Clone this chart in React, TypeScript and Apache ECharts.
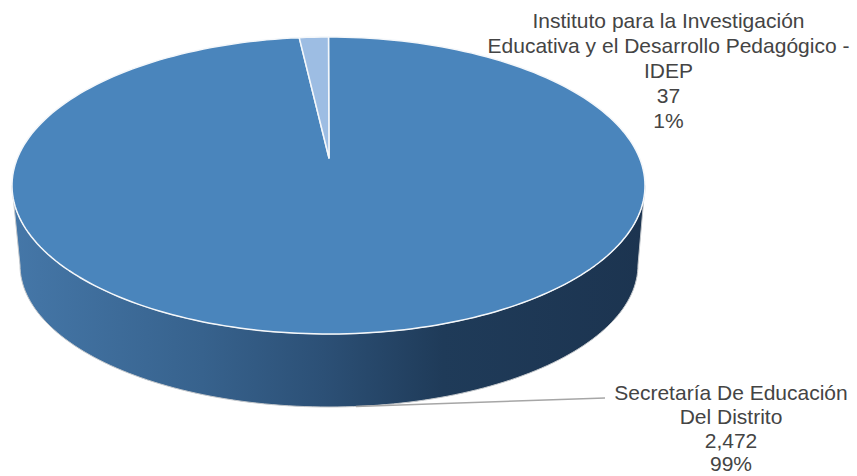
import React, { useEffect, useRef } from "react";
import * as echarts from "echarts";

const names = [
  "Secretaría De Educación\nDel Distrito",
  "Instituto para la Investigación\nEducativa y el Desarrollo Pedagógico -\nIDEP",
];
const values = [2472, 37];
const topColors = ["#4a85bc", "#9dbde3"];

const total = values.reduce((a, b) => a + b, 0);
const rad = (d: number) => (d * Math.PI) / 180;

const TOP = { cx: 328.5, cy: 185.5, rx: 316.5, ry: 148.5 };
const BOTTOM = { cx: 329, cy: 265, rx: 309, ry: 142 };
const APEX = [329, 158];
const LABELS = [
  { x: 731, y: 380.5, lineHeight: 23.8 },
  { x: 668.5, y: 8.5, lineHeight: 24.8 },
];

function rim(e: typeof TOP, deg: number) {
  return [e.cx + e.rx * Math.sin(rad(deg)), e.cy - e.ry * Math.cos(rad(deg))];
}
function arc(e: typeof TOP, a0: number, a1: number) {
  const pts: number[][] = [];
  const n = Math.max(2, Math.ceil(Math.abs(a1 - a0) / 1.5));
  for (let i = 0; i <= n; i++) pts.push(rim(e, a0 + ((a1 - a0) * i) / n));
  return pts;
}

function renderItem(params: any, api: any) {
  const i = params.dataIndex;
  const v = api.value(0);
  let before = 0;
  for (let k = 0; k < i; k++) before += values[k];
  const a0 = (before / total) * 360;
  const a1 = ((before + v) / total) * 360;
  const children: any[] = [];

  const f0 = Math.max(a0, 90);
  const f1 = Math.min(a1, 270);
  if (f1 > f0) {
    children.push({
      type: "polygon",
      shape: { points: [...arc(TOP, f0, f1), ...arc(BOTTOM, f1, f0)] },
      style: {
        fill: new echarts.graphic.LinearGradient(0, 0, 1, 0, [
          { offset: 0, color: "#4577a8" },
          { offset: 0.3, color: "#37628d" },
          { offset: 0.49, color: "#2c5076" },
          { offset: 0.68, color: "#1f3b59" },
          { offset: 1, color: "#1c3450" },
        ]),
        stroke: "#c4c8cc",
        lineWidth: 1,
      },
    });
  }
  children.push({
    type: "polygon",
    shape: { points: [APEX, ...arc(TOP, a0, a1)] },
    style: { fill: topColors[i], stroke: "#f4f7fa", lineWidth: 1.5, lineJoin: "round" },
  });

  const mid = (a0 + a1) / 2;
  if (mid > 90 && mid < 270) {
    const anchor = rim(BOTTOM, 175);
    children.push({
      type: "polyline",
      shape: { points: [anchor, [605, 398]] },
      style: { stroke: "#a6a6a6", lineWidth: 1.5, fill: "none" },
    });
  }

  const pct = Math.round((v / total) * 100);
  children.push({
    type: "text",
    x: LABELS[i].x,
    y: LABELS[i].y,
    style: {
      text: `${names[i]}\n${v.toLocaleString("en-US")}\n${pct}%`,
      align: "center",
      verticalAlign: "top",
      fontFamily: '"Liberation Sans", Arial, sans-serif',
      fontSize: 21,
      lineHeight: LABELS[i].lineHeight,
      fill: "#444444",
    },
  });
  return { type: "group", children };
}

export default function App() {
  const ref = useRef<HTMLDivElement>(null);
  useEffect(() => {
    const chart = echarts.init(ref.current!, undefined, { renderer: "svg" });
    chart.setOption({
      animation: false,
      backgroundColor: "#ffffff",
      series: [
        {
          type: "custom",
          coordinateSystem: "none",
          silent: true,
          renderItem,
          data: values.map((v, i) => ({ name: names[i], value: [v] })),
        },
      ],
    });
    return () => chart.dispose();
  }, []);
  return (
    <div
      ref={ref}
      style={{ position: "fixed", left: 0, top: 0, width: 857, height: 476 }}
    />
  );
}
